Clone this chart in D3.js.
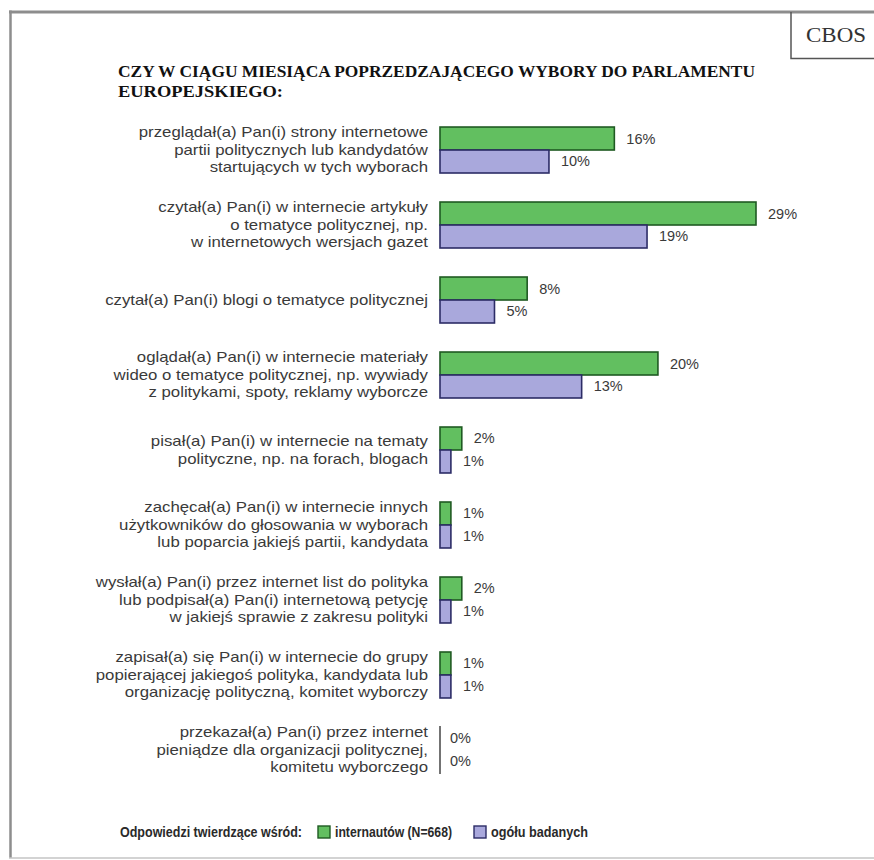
<!DOCTYPE html>
<html>
<head>
<meta charset="utf-8">
<script src="https://cdn.jsdelivr.net/npm/d3@7"></script>
<style>
  html, body { margin: 0; padding: 0; background: #fff; }
  svg { display: block; }
</style>
</head>
<body>
<svg id="chart" width="874" height="860"></svg>
<script>
// Survey items (label lines) and shares of "yes" answers, in percent
const categories = [
  ["przeglądał(a) Pan(i) strony internetowe", "partii politycznych lub kandydatów", "startujących w tych wyborach"],
  ["czytał(a) Pan(i) w internecie artykuły", "o tematyce politycznej, np.", "w internetowych wersjach gazet"],
  ["czytał(a) Pan(i) blogi o tematyce politycznej"],
  ["oglądał(a) Pan(i) w internecie materiały", "wideo o tematyce politycznej, np. wywiady", "z politykami, spoty, reklamy wyborcze"],
  ["pisał(a) Pan(i) w internecie na tematy", "polityczne, np. na forach, blogach"],
  ["zachęcał(a) Pan(i) w internecie innych", "użytkowników do głosowania w wyborach", "lub poparcia jakiejś partii, kandydata"],
  ["wysłał(a) Pan(i) przez internet list do polityka", "lub podpisał(a) Pan(i) internetową petycję", "w jakiejś sprawie z zakresu polityki"],
  ["zapisał(a) się Pan(i) w internecie do grupy", "popierającej jakiegoś polityka, kandydata lub", "organizację polityczną, komitet wyborczy"],
  ["przekazał(a) Pan(i) przez internet", "pieniądze dla organizacji politycznej,", "komitetu wyborczego"]
];
const internauci = [16, 29, 8, 20, 2, 1, 2, 1, 0];
const ogol = [10, 19, 5, 13, 1, 1, 1, 1, 0];

const seriesNames = ["internautów (N=668)", "ogółu badanych"];
const titleLines = ["CZY W CIĄGU MIESIĄCA POPRZEDZAJĄCEGO WYBORY DO PARLAMENTU", "EUROPEJSKIEGO:"];
const legendTitle = "Odpowiedzi twierdzące wśród:";
const sourceLabel = "CBOS";

const colors = {
  fill: ["#62bf60", "#a9a8dc"],
  stroke: ["#1f5a22", "#2c2c66"]
};

const svg = d3.select("#chart");

// Page frame
svg.append("line").attr("x1", 9).attr("x2", 874).attr("y1", 12).attr("y2", 12)
  .attr("stroke", "#8d8d8d").attr("stroke-width", 3);
svg.append("line").attr("x1", 10.5).attr("x2", 10.5).attr("y1", 10.5).attr("y2", 858)
  .attr("stroke", "#8d8d8d").attr("stroke-width", 2.5);
svg.append("line").attr("x1", 9).attr("x2", 874).attr("y1", 858).attr("y2", 858)
  .attr("stroke", "#c4c4c4").attr("stroke-width", 1.5);

// Source box in the top-right corner
svg.append("path").attr("d", "M791,12 V58.5 H874")
  .attr("fill", "none").attr("stroke", "#555").attr("stroke-width", 1.5);
svg.append("text").attr("x", 806).attr("y", 42)
  .attr("font-family", "'Liberation Serif', 'Times New Roman', serif")
  .attr("font-size", 22).attr("fill", "#333")
  .attr("textLength", 60).attr("lengthAdjust", "spacingAndGlyphs").text(sourceLabel);

// Title
const title = svg.append("g")
  .attr("font-family", "'Liberation Serif', 'Times New Roman', serif")
  .attr("font-weight", "bold").attr("font-size", 17).attr("fill", "#111");
title.append("text").attr("x", 118).attr("y", 77)
  .attr("textLength", 637).attr("lengthAdjust", "spacingAndGlyphs").text(titleLines[0]);
title.append("text").attr("x", 118).attr("y", 97)
  .attr("textLength", 165).attr("lengthAdjust", "spacingAndGlyphs").text(titleLines[1]);

// Scales
const x = d3.scaleLinear().domain([0, 29]).range([440, 756]);
const y = d3.scaleBand().domain(d3.range(categories.length)).range([98, 802]).padding(0.387);
const half = y.bandwidth() / 2;

const rows = categories.map((lines, i) => ({ i, lines, vals: [internauci[i], ogol[i]] }));

const row = svg.selectAll("g.row").data(rows).join("g").attr("class", "row")
  .attr("transform", d => `translate(0,${y(d.i)})`);

// Category labels, right-aligned against the bars
const lineH = 17.5;
row.each(function (d) {
  const g = d3.select(this);
  const n = d.lines.length;
  d.lines.forEach((t, k) => {
    const yy = half + (k - (n - 1) / 2) * lineH;
    g.append("text")
      .attr("transform", `translate(428,${yy}) scale(1.2,1)`)
      .attr("text-anchor", "end").attr("dominant-baseline", "central")
      .attr("font-family", "'Liberation Sans', Arial, sans-serif")
      .attr("font-size", 14).attr("fill", "#3a3a3a").text(t);
  });
});

// Bars (zero values shown as a bare baseline stroke)
row.each(function (d) {
  const g = d3.select(this);
  d.vals.forEach((v, s) => {
    const top = s * half;
    if (v > 0) {
      g.append("rect")
        .attr("x", x(0)).attr("y", top)
        .attr("width", x(v) - x(0)).attr("height", half)
        .attr("fill", colors.fill[s]).attr("stroke", colors.stroke[s]).attr("stroke-width", 1.6);
    }
    g.append("text")
      .attr("x", x(v) + (v > 0 ? 12 : 10)).attr("y", top + half / 2)
      .attr("dominant-baseline", "central")
      .attr("font-family", "'Liberation Sans', Arial, sans-serif")
      .attr("font-size", 14.5).attr("fill", "#3a3a3a").text(v + "%");
  });
  if (d3.max(d.vals) === 0) {
    g.append("line").attr("x1", x(0)).attr("x2", x(0)).attr("y1", -1).attr("y2", 2 * half + 1)
      .attr("stroke", "#444").attr("stroke-width", 1.5);
  }
});

// Legend
const legend = svg.append("g")
  .attr("font-family", "'Liberation Sans', Arial, sans-serif")
  .attr("font-weight", "bold").attr("font-size", 14).attr("fill", "#2a2a2a");
legend.append("text").attr("x", 120).attr("y", 832).attr("dominant-baseline", "central")
  .attr("textLength", 182).attr("lengthAdjust", "spacingAndGlyphs").text(legendTitle);
const legendX = [318, 474];
const legendW = [117, 97];
seriesNames.forEach((name, s) => {
  legend.append("rect").attr("x", legendX[s]).attr("y", 826).attr("width", 12).attr("height", 12)
    .attr("fill", colors.fill[s]).attr("stroke", colors.stroke[s]).attr("stroke-width", 1.4);
  legend.append("text").attr("x", legendX[s] + 17).attr("y", 832).attr("dominant-baseline", "central")
    .attr("textLength", legendW[s]).attr("lengthAdjust", "spacingAndGlyphs").text(name);
});
</script>
</body>
</html>
